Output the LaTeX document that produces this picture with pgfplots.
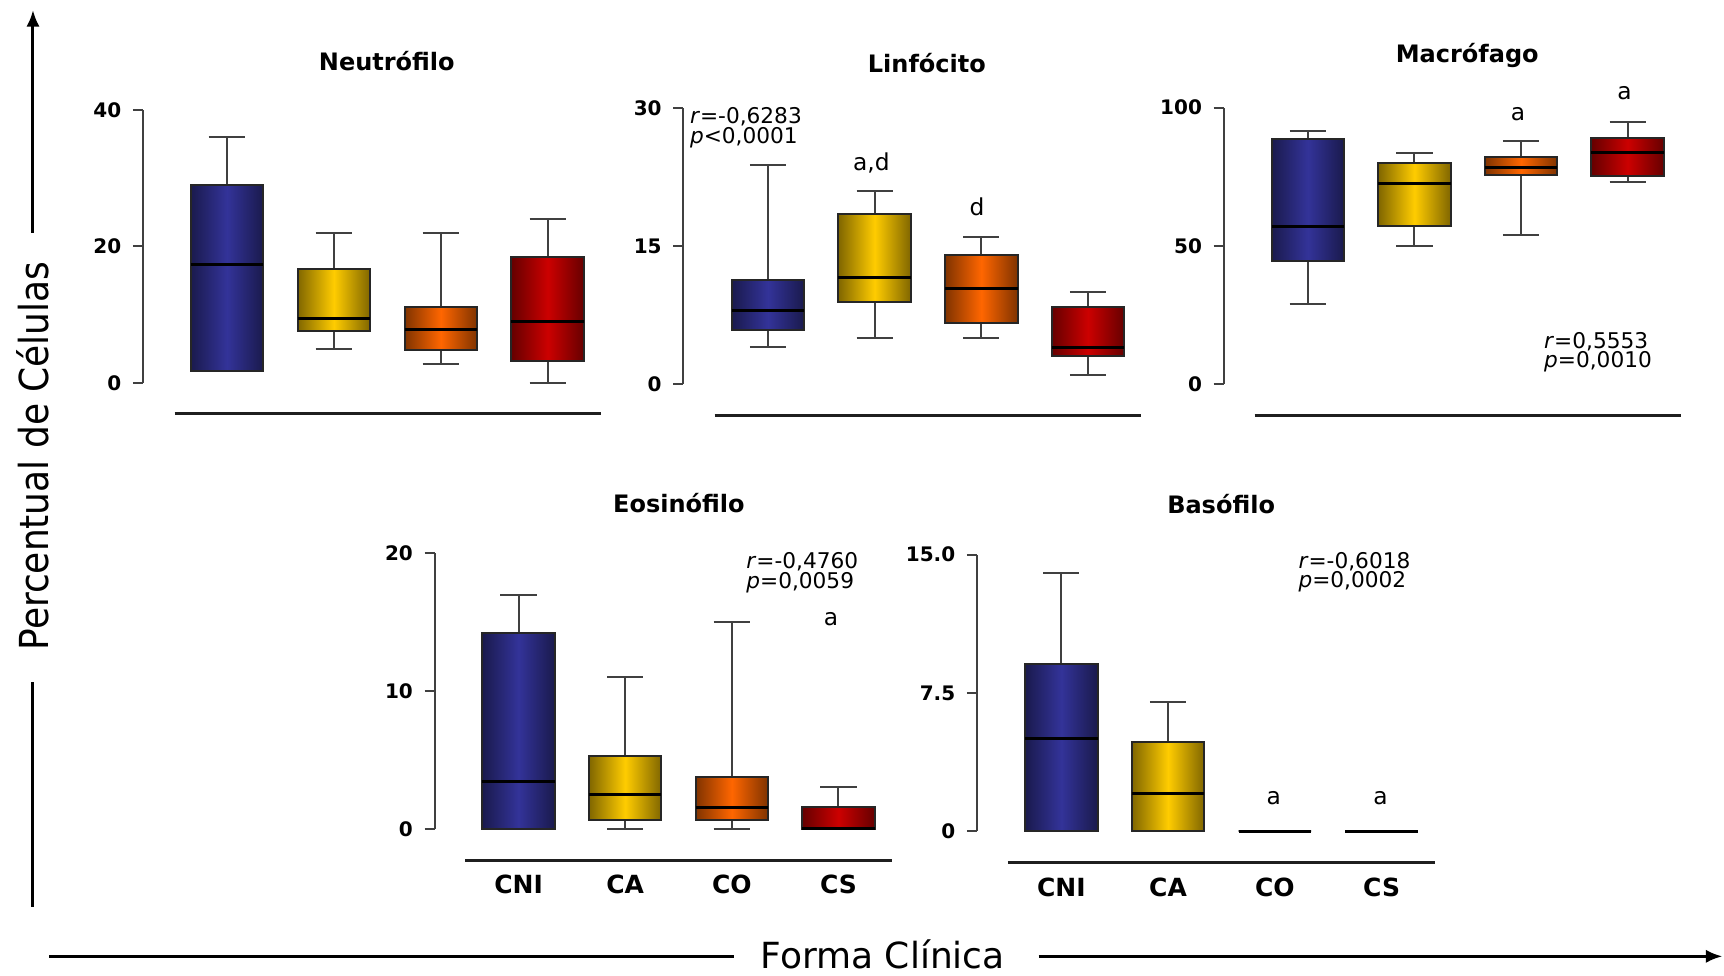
\documentclass[border=0pt]{standalone}
\usepackage{pgfplots}
\pgfplotsset{compat=1.18}
\usepackage{pgfplotstable}
\usepgfplotslibrary{statistics}
\usetikzlibrary{arrows.meta}
\usepackage{fontspec}
\setmainfont{DejaVu Sans}
\newfontfamily\condfont{DejaVu Sans Condensed}

\definecolor{bluemid}{RGB}{51,51,153}
\definecolor{bluedark}{RGB}{26,26,77}
\definecolor{yelmid}{RGB}{255,204,0}
\definecolor{yeldark}{RGB}{128,102,0}
\definecolor{oramid}{RGB}{255,102,0}
\definecolor{oradark}{RGB}{128,51,0}
\definecolor{redmid}{RGB}{204,0,0}
\definecolor{reddark}{RGB}{102,0,0}
\definecolor{axgray}{RGB}{64,64,64}

\newcommand{\tickfont}{\bfseries\fontsize{6.0}{7}\selectfont}
\newcommand{\titlefont}{\bfseries\fontsize{7.2}{8.6}\selectfont}
\newcommand{\catfont}{\bfseries\fontsize{7.5}{9}\selectfont}
\newcommand{\annfont}{\fontsize{6.5}{5.95}\selectfont}
\newcommand{\letfont}{\fontsize{7}{8}\selectfont}

% columns: lower whisker, lower quartile, median, upper quartile, upper whisker
% rows: CNI, CA, CO, CS
\pgfplotstableread{
lw lq med uq uw
1.8 1.8 17.4 29.0 36
5 7.6 9.4 16.7 22
2.8 4.8 7.9 11.1 22
0 3.2 9.0 18.4 24
}\neutro
\pgfplotstableread{
lw lq med uq uw
4 5.9 8.0 11.3 23.8
5 8.9 11.6 18.5 21
5 6.6 10.4 14.0 16
1 3.0 4.0 8.4 10
}\linfo
\pgfplotstableread{
lw lq med uq uw
29.1 44.6 56.9 88.6 91.6
50 57.3 72.5 80.0 83.6
54.1 75.7 78.3 82.3 88.0
73.0 75.3 83.9 89.2 94.8
}\macro
\pgfplotstableread{
lw lq med uq uw
0 0 3.4 14.2 17
0 0.65 2.5 5.25 11
0 0.65 1.55 3.75 15
0 0 0 1.55 3
}\eosino
\pgfplotstableread{
lw lq med uq uw
0 0 5.04 9.06 14
0 0 2.06 4.82 7.02
0 0 0 0 0
0 0 0 0 0
}\baso

\pgfplotsset{
  panel/.style={
    anchor=origin, clip=false,
    axis y line*=left, axis x line*=bottom,
    x axis line style={draw=none},
    y axis line style={draw=axgray, line width=0.6pt},
    xtick style={draw=none},
    ytick style={draw=axgray, line width=0.6pt},
    tick align=outside, major tick length=3pt,
    /pgf/number format/assume math mode=true,
    yticklabel style={font=\tickfont, text=black},
    xticklabel style={font=\catfont, text=black, anchor=north, yshift=-7.4pt},
    xmax=3.5, ymin=0,
    boxplot/box extend=0.68,
    boxplot/whisker extend=0.34,
    boxplot/draw direction=y,
    boxplot/every whisker/.style={draw=axgray, line width=0.6pt},
    boxplot/every median/.style={draw=black, line width=0.9pt},
  },
  shadebox/.style 2 args={boxplot/every box/.style={draw=black!85, line width=0.6pt, left color=#1, right color=#1, middle color=#2}},
  flatbox/.style={boxplot/every box/.style={draw=black, line width=0.6pt}},
}

% #1 table, #2 row (= draw position), #3 box style
\newcommand{\bx}[3]{%
  \pgfplotstablegetelem{#2}{lw}\of#1\let\vlw\pgfplotsretval
  \pgfplotstablegetelem{#2}{lq}\of#1\let\vlq\pgfplotsretval
  \pgfplotstablegetelem{#2}{med}\of#1\let\vmed\pgfplotsretval
  \pgfplotstablegetelem{#2}{uq}\of#1\let\vuq\pgfplotsretval
  \pgfplotstablegetelem{#2}{uw}\of#1\let\vuw\pgfplotsretval
  \edef\bxcmd{\noexpand\addplot[#3, boxplot prepared={draw position=#2,
    lower whisker=\vlw, lower quartile=\vlq, median=\vmed,
    upper quartile=\vuq, upper whisker=\vuw}] coordinates {};}%
  \bxcmd}

\begin{document}
\begin{tikzpicture}
\path (0pt,0pt) rectangle (517.2pt,-292.8pt);

% outer axes
\draw[line width=0.9pt] (9.9pt,-272.1pt) -- (9.9pt,-204.6pt);
\draw[line width=0.9pt, -{Latex[length=5pt,width=4pt]}] (9.9pt,-69.9pt) -- (9.9pt,-3pt);
\node[rotate=90, inner sep=0pt, font=\condfont\fontsize{12}{14}\selectfont] at (9.9pt,-136.8pt) {Percentual de Células};
\draw[line width=0.9pt] (14.85pt,-286.98pt) -- (220.2pt,-286.98pt);
\draw[line width=0.9pt, -{Latex[length=5pt,width=4pt]}] (311.7pt,-286.98pt) -- (516.9pt,-286.98pt);
\node[anchor=base, inner sep=0pt, text depth=0pt, font=\fontsize{10.8}{13}\selectfont] at (264.9pt,-290.6pt) {Forma Clínica};

% Neutrofilo
\begin{axis}[panel, at={(68.1pt,-114.9pt)}, x=32.1pt, y=2.0475pt, xmin=-0.785, ymax=40,
  ytick={0,20,40}, xtick=\empty]
\bx{\neutro}{0}{shadebox={bluedark}{bluemid}}
\bx{\neutro}{1}{shadebox={yeldark}{yelmid}}
\bx{\neutro}{2}{shadebox={oradark}{oramid}}
\bx{\neutro}{3}{shadebox={reddark}{redmid}}
\draw[black!88, line width=0.9pt] (axis cs:-0.49,-4.54) -- (axis cs:3.5,-4.54);
\node[font=\titlefont] at (axis cs:1.495,47.1) {Neutrófilo};
\end{axis}

% Linfocito
\begin{axis}[panel, at={(230.46pt,-115.2pt)}, x=32.01pt, y=2.757pt, xmin=-0.793, ymax=30,
  ytick={0,15,30}, xtick=\empty]
\bx{\linfo}{0}{shadebox={bluedark}{bluemid}}
\bx{\linfo}{1}{shadebox={yeldark}{yelmid}}
\bx{\linfo}{2}{shadebox={oradark}{oramid}}
\bx{\linfo}{3}{shadebox={reddark}{redmid}}
\draw[black!88, line width=0.9pt] (axis cs:-0.5,-3.41) -- (axis cs:3.5,-3.41);
\node[font=\titlefont] at (axis cs:1.49,34.9) {Linfócito};
\node[anchor=west, align=left, font=\annfont, inner sep=0pt] at (axis cs:-0.737,27.9) {\textit{r}=-0,6283\\\textit{p}<0,0001};
\node[font=\letfont] at (axis cs:0.97,24.05) {a,d};
\node[font=\letfont] at (axis cs:1.96,19.3) {d};
\end{axis}

% Macrofago
\begin{axis}[panel, at={(392.46pt,-115.29pt)}, x=32.0pt, y=0.8298pt, xmin=-0.789, ymax=100,
  ytick={0,50,100}, xtick=\empty]
\bx{\macro}{0}{shadebox={bluedark}{bluemid}}
\bx{\macro}{1}{shadebox={yeldark}{yelmid}}
\bx{\macro}{2}{shadebox={oradark}{oramid}}
\bx{\macro}{3}{shadebox={reddark}{redmid}}
\draw[black!88, line width=0.9pt] (axis cs:-0.5,-11.2) -- (axis cs:3.5,-11.2);
\node[font=\titlefont] at (axis cs:1.495,118.7) {Macrófago};
\node[font=\letfont] at (axis cs:1.97,97.7) {a};
\node[font=\letfont] at (axis cs:2.97,105.2) {a};
\node[anchor=west, align=left, font=\annfont, inner sep=0pt] at (axis cs:2.21,11.6) {\textit{r}=0,5553\\\textit{p}=0,0010};
\end{axis}

% Eosinofilo
\begin{axis}[panel, at={(155.61pt,-248.7pt)}, x=32.0pt, y=4.1355pt, xmin=-0.787, ymax=20,
  ytick={0,10,20}, xtick={0,1,2,3}, xticklabels={CNI,CA,CO,CS}]
\bx{\eosino}{0}{shadebox={bluedark}{bluemid}}
\bx{\eosino}{1}{shadebox={yeldark}{yelmid}}
\bx{\eosino}{2}{shadebox={oradark}{oramid}}
\bx{\eosino}{3}{shadebox={reddark}{redmid}}
\draw[black!88, line width=0.9pt] (axis cs:-0.5,-2.27) -- (axis cs:3.5,-2.27);
\node[font=\titlefont] at (axis cs:1.504,23.67) {Eosinófilo};
\node[anchor=west, align=left, font=\annfont, inner sep=0pt] at (axis cs:2.13,18.6) {\textit{r}=-0,4760\\\textit{p}=0,0059};
\node[font=\letfont] at (axis cs:2.93,15.2) {a};
\end{axis}

% Basofilo
\begin{axis}[panel, at={(318.48pt,-249.51pt)}, x=32.04pt, y=5.54pt, xmin=-0.79, ymax=15,
  ytick={0,7.5,15}, yticklabels={0,7.5,15.0}, xtick={0,1,2,3}, xticklabels={CNI,CA,CO,CS}]
\bx{\baso}{0}{shadebox={bluedark}{bluemid}}
\bx{\baso}{1}{shadebox={yeldark}{yelmid}}
\bx{\baso}{2}{flatbox}
\bx{\baso}{3}{flatbox}
\draw[black!88, line width=0.9pt] (axis cs:-0.5,-1.657) -- (axis cs:3.5,-1.657);
\node[font=\titlefont] at (axis cs:1.497,17.75) {Basófilo};
\node[anchor=west, align=left, font=\annfont, inner sep=0pt] at (axis cs:2.216,14.04) {\textit{r}=-0,6018\\\textit{p}=0,0002};
\node[font=\letfont] at (axis cs:1.99,1.81) {a};
\node[font=\letfont] at (axis cs:2.99,1.81) {a};
\end{axis}
\end{tikzpicture}
\end{document}
